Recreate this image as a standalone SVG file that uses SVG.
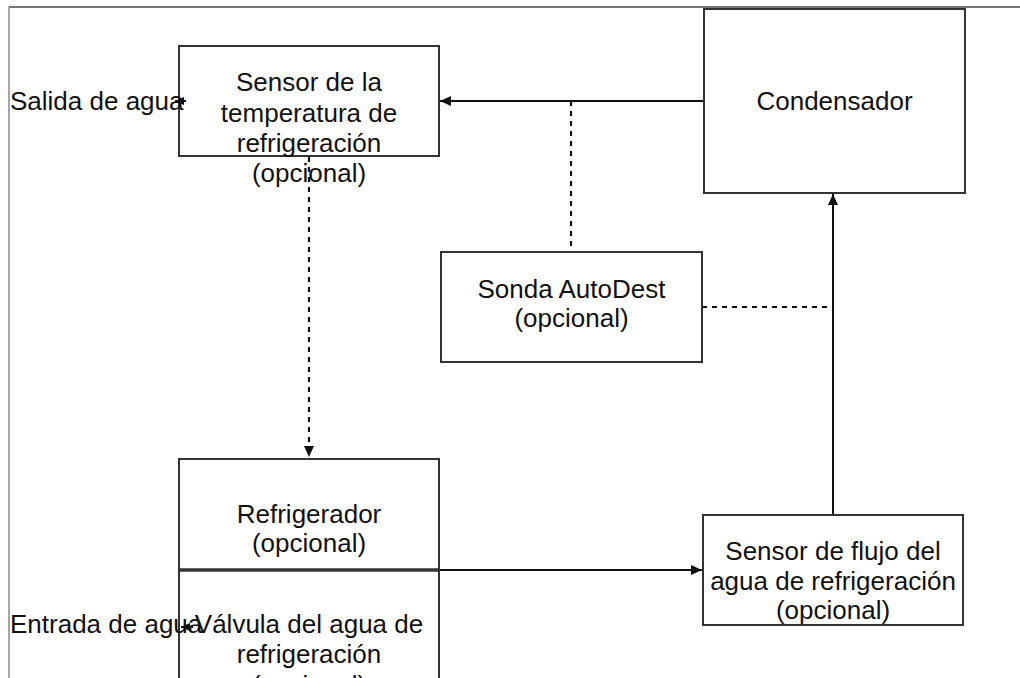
<svg xmlns="http://www.w3.org/2000/svg" width="1020" height="678" viewBox="0 0 1020 678">
<style>
.box{fill:#fff;stroke:#333;stroke-width:2}
.t{font-family:"Liberation Sans",Arial,sans-serif;font-size:26px;fill:#111;text-anchor:middle}
.tl{font-family:"Liberation Sans",Arial,sans-serif;font-size:26px;fill:#111}
.ln{fill:none;stroke:#111;stroke-width:2}
.dash{fill:none;stroke:#111;stroke-width:2.2;stroke-dasharray:5 5}
</style>
<defs>
<marker id="ah" markerUnits="userSpaceOnUse" markerWidth="12" markerHeight="10" refX="11" refY="5" orient="auto">
<path d="M0,0 L11,5 L0,10 Z" fill="#111"/>
</marker>
<marker id="ahs" markerUnits="userSpaceOnUse" markerWidth="10" markerHeight="8" refX="9" refY="4" orient="auto">
<path d="M0,0 L9,4 L0,8 Z" fill="#111"/>
</marker>
</defs>
<rect width="1020" height="678" fill="#fff"/>
<g id="frame">
<line x1="9" y1="7" x2="1020" y2="7" stroke="#444" stroke-width="1.5"/>
<line x1="9" y1="7" x2="9" y2="678" stroke="#888" stroke-width="1.5"/>
</g>
<g id="connectors">
<line class="ln" x1="704" y1="101" x2="440" y2="101" marker-end="url(#ah)"/>
<line class="dash" x1="571" y1="101" x2="571" y2="251"/>
<line class="dash" x1="702" y1="307" x2="833" y2="307"/>
<line class="dash" x1="309" y1="157" x2="309" y2="457" marker-end="url(#ah)"/>
<line class="ln" x1="439" y1="570" x2="702" y2="570" marker-end="url(#ah)"/>
<line class="ln" x1="833" y1="515" x2="833" y2="194" marker-end="url(#ah)"/>
</g>
<g id="sensor-temp">
<rect class="box" x="179" y="46" width="260" height="110"/>
<text class="t" x="309" y="91">Sensor de la</text>
<text class="t" x="309" y="122">temperatura de</text>
<text class="t" x="309" y="152">refrigeración</text>
<text class="t" x="309" y="182">(opcional)</text>
</g>
<g id="condensador">
<rect class="box" x="704" y="9" width="261" height="184"/>
<text class="t" x="834.5" y="110">Condensador</text>
</g>
<g id="sonda">
<rect class="box" x="441" y="252" width="261" height="110"/>
<text class="t" x="571.5" y="298">Sonda AutoDest</text>
<text class="t" x="571.5" y="327">(opcional)</text>
</g>
<g id="refrigerador">
<rect class="box" x="179" y="459" width="260" height="111"/>
<text class="t" x="309" y="523">Refrigerador</text>
<text class="t" x="309" y="552">(opcional)</text>
</g>
<g id="valvula">
<rect class="box" x="179" y="570" width="260" height="140"/>
<line x1="179" y1="570" x2="439" y2="570" stroke="#333" stroke-width="3.5"/>
<text class="t" x="309" y="633">Válvula del agua de</text>
<text class="t" x="309" y="663">refrigeración</text>
<text class="t" x="309" y="694">(opcional)</text>
</g>
<g id="sensor-flujo">
<rect class="box" x="703" y="515" width="260" height="110"/>
<text class="t" x="833" y="560">Sensor de flujo del</text>
<text class="t" x="833" y="590">agua de refrigeración</text>
<text class="t" x="833" y="619">(opcional)</text>
</g>
<g id="salida">
<text class="tl" x="10" y="110">Salida de agua</text>
<line class="ln" x1="186" y1="101" x2="175" y2="101" marker-end="url(#ahs)"/>
</g>
<g id="entrada">
<text class="tl" x="10" y="633">Entrada de agua</text>
<line class="ln" x1="193" y1="627" x2="181" y2="627" marker-end="url(#ahs)"/>
</g>
</svg>
